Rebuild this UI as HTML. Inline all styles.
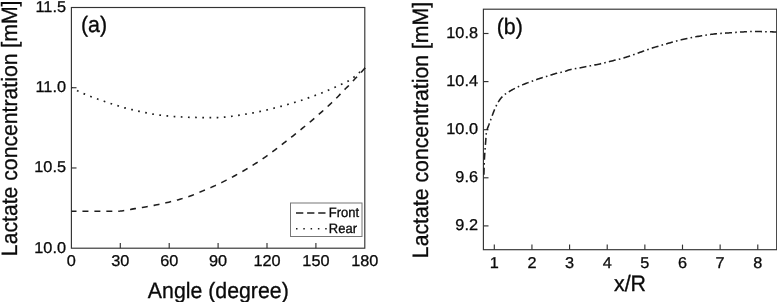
<!DOCTYPE html>
<html><head><meta charset="utf-8"><title>Lactate concentration</title>
<style>html,body{margin:0;padding:0;background:#fff}svg{display:block}text{font-family:"Liberation Sans",Arial,sans-serif;fill:#0a0a0a;text-rendering:geometricPrecision}</style></head><body>
<svg width="777" height="302" viewBox="0 0 777 302">
<rect width="777" height="302" fill="#fff"/>
<g fill="none" stroke="#333" stroke-width="1.15">
<rect x="71.4" y="7.5" width="293.40" height="240.70"/>
<line x1="120.30" y1="248.2" x2="120.30" y2="243.1"/>
<line x1="169.20" y1="248.2" x2="169.20" y2="243.1"/>
<line x1="218.10" y1="248.2" x2="218.10" y2="243.1"/>
<line x1="267.00" y1="248.2" x2="267.00" y2="243.1"/>
<line x1="315.90" y1="248.2" x2="315.90" y2="243.1"/>
<line x1="71.4" y1="167.97" x2="76.5" y2="167.97"/>
<line x1="71.4" y1="87.73" x2="76.5" y2="87.73"/>
</g>
<text transform="translate(71.4,266.2) scale(1,0.965)" font-size="16.3" text-anchor="middle" stroke="#0a0a0a" stroke-width="0.3">0</text>
<text transform="translate(120.3,266.2) scale(1,0.965)" font-size="16.3" text-anchor="middle" stroke="#0a0a0a" stroke-width="0.3">30</text>
<text transform="translate(169.2,266.2) scale(1,0.965)" font-size="16.3" text-anchor="middle" stroke="#0a0a0a" stroke-width="0.3">60</text>
<text transform="translate(218.1,266.2) scale(1,0.965)" font-size="16.3" text-anchor="middle" stroke="#0a0a0a" stroke-width="0.3">90</text>
<text transform="translate(267.0,266.2) scale(1,0.965)" font-size="16.3" text-anchor="middle" stroke="#0a0a0a" stroke-width="0.3">120</text>
<text transform="translate(315.9,266.2) scale(1,0.965)" font-size="16.3" text-anchor="middle" stroke="#0a0a0a" stroke-width="0.3">150</text>
<text transform="translate(364.8,266.2) scale(1,0.965)" font-size="16.3" text-anchor="middle" stroke="#0a0a0a" stroke-width="0.3">180</text>
<text transform="translate(66.0,252.5) scale(1,0.965)" font-size="16.3" text-anchor="end" stroke="#0a0a0a" stroke-width="0.3">10.0</text>
<text transform="translate(66.0,172.27) scale(1,0.965)" font-size="16.3" text-anchor="end" stroke="#0a0a0a" stroke-width="0.3">10.5</text>
<text transform="translate(66.0,92.03) scale(1,0.965)" font-size="16.3" text-anchor="end" stroke="#0a0a0a" stroke-width="0.3">11.0</text>
<text transform="translate(66.0,11.8) scale(1,0.965)" font-size="16.3" text-anchor="end" stroke="#0a0a0a" stroke-width="0.3">11.5</text>
<text transform="translate(80.9,32) scale(1,1.045)" font-size="21.4" text-anchor="start" stroke="#0a0a0a" stroke-width="0.3">(a)</text>
<text transform="translate(218.3,298.0) scale(1,1.045)" font-size="21.3" text-anchor="middle" stroke="#0a0a0a" stroke-width="0.3">Angle (degree)</text>
<text transform="translate(17.0,128.35) rotate(-90) scale(1,1.045)" font-size="21.2" text-anchor="middle" stroke="#0a0a0a" stroke-width="0.3">Lactate concentration [mM]</text>
<path d="M71.50,211.20 L72.98,211.20 L74.45,211.20 L75.93,211.20 L77.40,211.20 L78.88,211.20 L80.35,211.20 L81.83,211.20 L83.30,211.20 L84.78,211.20 L86.25,211.20 L87.73,211.20 L89.20,211.20 L90.68,211.20 L92.16,211.20 L93.63,211.20 L95.11,211.20 L96.58,211.20 L98.06,211.20 L99.53,211.20 L101.01,211.20 L102.48,211.20 L103.96,211.20 L105.43,211.20 L106.91,211.20 L108.38,211.20 L109.86,211.20 L111.34,211.20 L112.81,211.20 L114.29,211.20 L115.76,211.20 L117.24,211.20 L118.71,211.18 L120.19,211.09 L121.66,210.95 L123.14,210.75 L124.61,210.52 L126.09,210.25 L127.56,209.97 L129.04,209.69 L130.52,209.40 L131.99,209.12 L133.47,208.87 L134.94,208.64 L136.42,208.40 L137.89,208.17 L139.37,207.93 L140.84,207.69 L142.32,207.44 L143.79,207.19 L145.27,206.94 L146.74,206.69 L148.22,206.43 L149.69,206.17 L151.17,205.91 L152.65,205.65 L154.12,205.38 L155.60,205.10 L157.07,204.81 L158.55,204.50 L160.02,204.19 L161.50,203.87 L162.97,203.54 L164.45,203.21 L165.92,202.86 L167.40,202.51 L168.87,202.16 L170.35,201.80 L171.83,201.43 L173.30,201.06 L174.78,200.68 L176.25,200.29 L177.73,199.89 L179.20,199.48 L180.68,199.06 L182.15,198.63 L183.63,198.18 L185.10,197.73 L186.58,197.26 L188.05,196.77 L189.53,196.27 L191.01,195.75 L192.48,195.21 L193.96,194.64 L195.43,194.03 L196.91,193.41 L198.38,192.77 L199.86,192.13 L201.33,191.49 L202.81,190.87 L204.28,190.26 L205.76,189.64 L207.23,189.03 L208.71,188.42 L210.19,187.80 L211.66,187.16 L213.14,186.52 L214.61,185.86 L216.09,185.18 L217.56,184.50 L219.04,183.81 L220.51,183.11 L221.99,182.39 L223.46,181.67 L224.94,180.93 L226.41,180.18 L227.89,179.42 L229.37,178.65 L230.84,177.86 L232.32,177.07 L233.79,176.28 L235.27,175.47 L236.74,174.66 L238.22,173.84 L239.69,173.01 L241.17,172.17 L242.64,171.32 L244.12,170.46 L245.59,169.59 L247.07,168.71 L248.55,167.83 L250.02,166.93 L251.50,166.02 L252.97,165.11 L254.45,164.18 L255.92,163.24 L257.40,162.29 L258.87,161.33 L260.35,160.36 L261.82,159.37 L263.30,158.38 L264.77,157.36 L266.25,156.34 L267.73,155.29 L269.20,154.22 L270.68,153.15 L272.15,152.06 L273.63,150.96 L275.10,149.85 L276.58,148.72 L278.05,147.58 L279.53,146.42 L281.00,145.27 L282.48,144.11 L283.95,142.96 L285.43,141.81 L286.91,140.67 L288.38,139.53 L289.86,138.38 L291.33,137.23 L292.81,136.07 L294.28,134.90 L295.76,133.72 L297.23,132.54 L298.71,131.34 L300.18,130.14 L301.66,128.94 L303.13,127.72 L304.61,126.50 L306.08,125.28 L307.56,124.04 L309.04,122.80 L310.51,121.55 L311.99,120.30 L313.46,119.04 L314.94,117.77 L316.41,116.50 L317.89,115.21 L319.36,113.92 L320.84,112.62 L322.31,111.31 L323.79,109.99 L325.26,108.66 L326.74,107.32 L328.22,105.96 L329.69,104.59 L331.17,103.20 L332.64,101.79 L334.12,100.36 L335.59,98.91 L337.07,97.44 L338.54,95.92 L340.02,94.36 L341.49,92.80 L342.97,91.28 L344.44,89.76 L345.92,88.28 L347.40,86.86 L348.87,85.44 L350.35,83.92 L351.82,82.29 L353.30,80.65 L354.77,79.07 L356.25,77.54 L357.72,76.00 L359.20,74.41 L360.67,72.81 L362.15,71.19 L363.62,69.56 L365.10,67.90" fill="none" stroke="#1e1e1e" stroke-width="1.55" stroke-dasharray="6.0 5.94" stroke-dashoffset="1.0"/>
<path d="M71.50,87.50 L72.98,88.38 L74.45,89.22 L75.93,90.03 L77.40,90.80 L78.88,91.52 L80.35,92.21 L81.83,92.87 L83.30,93.51 L84.78,94.13 L86.25,94.75 L87.73,95.35 L89.20,95.94 L90.68,96.51 L92.16,97.07 L93.63,97.62 L95.11,98.16 L96.58,98.69 L98.06,99.21 L99.53,99.73 L101.01,100.24 L102.48,100.74 L103.96,101.24 L105.43,101.74 L106.91,102.24 L108.38,102.74 L109.86,103.23 L111.34,103.72 L112.81,104.20 L114.29,104.67 L115.76,105.14 L117.24,105.61 L118.71,106.06 L120.19,106.51 L121.66,106.95 L123.14,107.39 L124.61,107.82 L126.09,108.22 L127.56,108.61 L129.04,108.97 L130.52,109.33 L131.99,109.68 L133.47,110.04 L134.94,110.39 L136.42,110.75 L137.89,111.09 L139.37,111.43 L140.84,111.75 L142.32,112.05 L143.79,112.35 L145.27,112.64 L146.74,112.93 L148.22,113.22 L149.69,113.50 L151.17,113.78 L152.65,114.04 L154.12,114.28 L155.60,114.52 L157.07,114.73 L158.55,114.94 L160.02,115.14 L161.50,115.32 L162.97,115.50 L164.45,115.67 L165.92,115.82 L167.40,115.97 L168.87,116.11 L170.35,116.24 L171.83,116.36 L173.30,116.47 L174.78,116.58 L176.25,116.67 L177.73,116.77 L179.20,116.85 L180.68,116.93 L182.15,117.00 L183.63,117.07 L185.10,117.14 L186.58,117.21 L188.05,117.26 L189.53,117.31 L191.01,117.36 L192.48,117.40 L193.96,117.43 L195.43,117.47 L196.91,117.51 L198.38,117.56 L199.86,117.62 L201.33,117.66 L202.81,117.69 L204.28,117.70 L205.76,117.70 L207.23,117.70 L208.71,117.70 L210.19,117.70 L211.66,117.69 L213.14,117.67 L214.61,117.64 L216.09,117.59 L217.56,117.54 L219.04,117.48 L220.51,117.39 L221.99,117.29 L223.46,117.18 L224.94,117.05 L226.41,116.92 L227.89,116.76 L229.37,116.59 L230.84,116.41 L232.32,116.22 L233.79,116.02 L235.27,115.81 L236.74,115.60 L238.22,115.37 L239.69,115.15 L241.17,114.92 L242.64,114.68 L244.12,114.44 L245.59,114.20 L247.07,113.96 L248.55,113.71 L250.02,113.46 L251.50,113.20 L252.97,112.93 L254.45,112.65 L255.92,112.35 L257.40,112.05 L258.87,111.73 L260.35,111.42 L261.82,111.09 L263.30,110.75 L264.77,110.41 L266.25,110.06 L267.73,109.71 L269.20,109.35 L270.68,108.98 L272.15,108.61 L273.63,108.24 L275.10,107.87 L276.58,107.50 L278.05,107.12 L279.53,106.73 L281.00,106.34 L282.48,105.94 L283.95,105.54 L285.43,105.13 L286.91,104.71 L288.38,104.29 L289.86,103.85 L291.33,103.40 L292.81,102.95 L294.28,102.51 L295.76,102.07 L297.23,101.64 L298.71,101.20 L300.18,100.75 L301.66,100.28 L303.13,99.78 L304.61,99.25 L306.08,98.72 L307.56,98.19 L309.04,97.66 L310.51,97.13 L311.99,96.60 L313.46,96.07 L314.94,95.53 L316.41,95.01 L317.89,94.47 L319.36,93.93 L320.84,93.36 L322.31,92.76 L323.79,92.13 L325.26,91.48 L326.74,90.83 L328.22,90.19 L329.69,89.56 L331.17,88.93 L332.64,88.29 L334.12,87.65 L335.59,86.99 L337.07,86.33 L338.54,85.66 L340.02,84.98 L341.49,84.32 L342.97,83.68 L344.44,83.02 L345.92,82.31 L347.40,81.51 L348.87,80.64 L350.35,79.68 L351.82,78.67 L353.30,77.60 L354.77,76.44 L356.25,75.18 L357.72,73.88 L359.20,72.64 L360.67,71.43 L362.15,70.24 L363.62,69.06 L365.10,67.90" fill="none" stroke="#1e1e1e" stroke-width="1.7" stroke-dasharray="1.7 5.48" stroke-dashoffset="0.85"/>
<rect x="290.5" y="203" width="71.5" height="33.5" fill="#fff" stroke="#777" stroke-width="1"/>
<line x1="296" y1="213" x2="325.5" y2="213" stroke="#1e1e1e" stroke-width="1.55" stroke-dasharray="7.3 3.8"/>
<line x1="296" y1="228.8" x2="327" y2="228.8" stroke="#1e1e1e" stroke-width="1.5" stroke-dasharray="1.5 5.8"/>
<text transform="translate(328.8,217) scale(1,1.045)" font-size="13" text-anchor="start" stroke="#0a0a0a" stroke-width="0.3">Front</text>
<text transform="translate(328.8,233.3) scale(1,1.045)" font-size="13" text-anchor="start" stroke="#0a0a0a" stroke-width="0.3">Rear</text>
<g fill="none" stroke="#333" stroke-width="1.15">
<rect x="483.4" y="9.2" width="293.30" height="240.50"/>
<line x1="494.30" y1="249.7" x2="494.30" y2="244.6"/>
<line x1="531.94" y1="249.7" x2="531.94" y2="244.6"/>
<line x1="569.58" y1="249.7" x2="569.58" y2="244.6"/>
<line x1="607.22" y1="249.7" x2="607.22" y2="244.6"/>
<line x1="644.86" y1="249.7" x2="644.86" y2="244.6"/>
<line x1="682.50" y1="249.7" x2="682.50" y2="244.6"/>
<line x1="720.14" y1="249.7" x2="720.14" y2="244.6"/>
<line x1="757.78" y1="249.7" x2="757.78" y2="244.6"/>
<line x1="483.4" y1="33.50" x2="488.5" y2="33.50"/>
<line x1="483.4" y1="81.60" x2="488.5" y2="81.60"/>
<line x1="483.4" y1="129.70" x2="488.5" y2="129.70"/>
<line x1="483.4" y1="177.80" x2="488.5" y2="177.80"/>
<line x1="483.4" y1="225.90" x2="488.5" y2="225.90"/>
</g>
<text transform="translate(494.3,267.8) scale(1,0.965)" font-size="16.3" text-anchor="middle" stroke="#0a0a0a" stroke-width="0.3">1</text>
<text transform="translate(531.94,267.8) scale(1,0.965)" font-size="16.3" text-anchor="middle" stroke="#0a0a0a" stroke-width="0.3">2</text>
<text transform="translate(569.58,267.8) scale(1,0.965)" font-size="16.3" text-anchor="middle" stroke="#0a0a0a" stroke-width="0.3">3</text>
<text transform="translate(607.22,267.8) scale(1,0.965)" font-size="16.3" text-anchor="middle" stroke="#0a0a0a" stroke-width="0.3">4</text>
<text transform="translate(644.86,267.8) scale(1,0.965)" font-size="16.3" text-anchor="middle" stroke="#0a0a0a" stroke-width="0.3">5</text>
<text transform="translate(682.5,267.8) scale(1,0.965)" font-size="16.3" text-anchor="middle" stroke="#0a0a0a" stroke-width="0.3">6</text>
<text transform="translate(720.14,267.8) scale(1,0.965)" font-size="16.3" text-anchor="middle" stroke="#0a0a0a" stroke-width="0.3">7</text>
<text transform="translate(757.78,267.8) scale(1,0.965)" font-size="16.3" text-anchor="middle" stroke="#0a0a0a" stroke-width="0.3">8</text>
<text transform="translate(478.0,37.7) scale(1,0.965)" font-size="16.3" text-anchor="end" stroke="#0a0a0a" stroke-width="0.3">10.8</text>
<text transform="translate(478.0,85.8) scale(1,0.965)" font-size="16.3" text-anchor="end" stroke="#0a0a0a" stroke-width="0.3">10.4</text>
<text transform="translate(478.0,133.9) scale(1,0.965)" font-size="16.3" text-anchor="end" stroke="#0a0a0a" stroke-width="0.3">10.0</text>
<text transform="translate(478.0,182.0) scale(1,0.965)" font-size="16.3" text-anchor="end" stroke="#0a0a0a" stroke-width="0.3">9.6</text>
<text transform="translate(478.0,230.1) scale(1,0.965)" font-size="16.3" text-anchor="end" stroke="#0a0a0a" stroke-width="0.3">9.2</text>
<text transform="translate(496.7,33.5) scale(1,1.045)" font-size="21.4" text-anchor="start" stroke="#0a0a0a" stroke-width="0.3">(b)</text>
<text transform="translate(630,290.5) scale(1,1.045)" font-size="21.4" text-anchor="middle" stroke="#0a0a0a" stroke-width="0.3">x/R</text>
<text transform="translate(428.4,130.0) rotate(-90) scale(1,1.045)" font-size="21.25" text-anchor="middle" stroke="#0a0a0a" stroke-width="0.3">Lactate concentration [mM]</text>
<path d="M483.90,176.00 L483.92,174.77 L483.94,173.54 L483.97,172.31 L484.00,171.08 L484.04,169.85 L484.07,168.62 L484.11,167.39 L484.16,166.16 L484.20,164.94 L484.25,163.71 L484.30,162.48 L484.35,161.25 L484.40,160.02 L484.45,158.79 L484.52,157.57 L484.59,156.34 L484.66,155.11 L484.74,153.88 L484.82,152.66 L484.90,151.43 L484.99,150.20 L485.07,148.98 L485.17,147.75 L485.27,146.52 L485.37,145.30 L485.47,144.07 L485.58,142.85 L485.68,141.62 L485.77,140.40 L485.86,139.17 L485.93,137.94 L486.00,136.71 L486.08,135.48 L486.18,134.26 L486.34,133.04 L486.57,131.83 L486.84,130.63 L487.15,129.45 L487.53,128.28 L487.97,127.13 L488.43,125.98 L488.88,124.83 L489.30,123.68 L489.72,122.52 L490.15,121.37 L490.57,120.21 L490.99,119.06 L491.40,117.90 L491.81,116.74 L492.23,115.58 L492.65,114.43 L493.08,113.28 L493.53,112.13 L493.97,110.98 L494.43,109.84 L494.91,108.71 L495.41,107.58 L495.92,106.47 L496.45,105.35 L497.01,104.25 L497.59,103.16 L498.21,102.11 L498.87,101.08 L499.56,100.06 L500.30,99.05 L501.08,98.07 L501.89,97.14 L502.73,96.26 L503.61,95.44 L504.55,94.67 L505.54,93.94 L506.57,93.24 L507.62,92.57 L508.67,91.91 L509.71,91.26 L510.77,90.64 L511.84,90.03 L512.92,89.44 L514.01,88.87 L515.10,88.30 L516.20,87.75 L517.30,87.21 L518.41,86.67 L519.53,86.15 L520.65,85.64 L521.77,85.14 L522.90,84.66 L524.04,84.19 L525.18,83.73 L526.32,83.29 L527.48,82.86 L528.63,82.44 L529.79,82.02 L530.95,81.60 L532.10,81.18 L533.26,80.75 L534.41,80.33 L535.57,79.91 L536.72,79.49 L537.88,79.08 L539.05,78.68 L540.21,78.30 L541.39,77.93 L542.56,77.58 L543.74,77.23 L544.93,76.89 L546.11,76.55 L547.29,76.20 L548.47,75.85 L549.64,75.48 L550.81,75.10 L551.98,74.72 L553.15,74.34 L554.32,73.97 L555.50,73.61 L556.68,73.28 L557.87,72.97 L559.07,72.69 L560.27,72.42 L561.47,72.16 L562.67,71.89 L563.87,71.60 L565.05,71.29 L566.23,70.92 L567.39,70.52 L568.56,70.11 L569.73,69.75 L570.92,69.45 L572.12,69.20 L573.32,68.96 L574.53,68.74 L575.74,68.53 L576.96,68.33 L578.18,68.13 L579.39,67.92 L580.60,67.70 L581.81,67.47 L583.02,67.24 L584.23,67.01 L585.43,66.77 L586.64,66.54 L587.85,66.30 L589.05,66.07 L590.26,65.83 L591.47,65.59 L592.67,65.35 L593.88,65.11 L595.09,64.88 L596.29,64.64 L597.50,64.39 L598.70,64.14 L599.90,63.89 L601.10,63.62 L602.30,63.34 L603.50,63.06 L604.69,62.76 L605.88,62.45 L607.07,62.14 L608.26,61.83 L609.45,61.52 L610.64,61.21 L611.84,60.92 L613.03,60.63 L614.23,60.35 L615.43,60.07 L616.63,59.79 L617.83,59.51 L619.02,59.22 L620.21,58.92 L621.40,58.61 L622.58,58.28 L623.76,57.93 L624.94,57.57 L626.11,57.20 L627.28,56.82 L628.45,56.44 L629.61,56.04 L630.78,55.65 L631.94,55.25 L633.11,54.85 L634.27,54.45 L635.43,54.03 L636.58,53.61 L637.74,53.19 L638.89,52.77 L640.05,52.35 L641.20,51.93 L642.36,51.51 L643.52,51.10 L644.68,50.69 L645.84,50.27 L646.99,49.86 L648.15,49.45 L649.31,49.04 L650.48,48.64 L651.64,48.25 L652.81,47.86 L653.98,47.49 L655.15,47.13 L656.33,46.77 L657.51,46.41 L658.69,46.06 L659.87,45.71 L661.05,45.37 L662.23,45.02 L663.41,44.68 L664.59,44.34 L665.77,44.00 L666.95,43.66 L668.14,43.32 L669.32,42.99 L670.50,42.66 L671.69,42.33 L672.88,42.01 L674.07,41.70 L675.25,41.38 L676.44,41.07 L677.64,40.76 L678.83,40.46 L680.02,40.16 L681.21,39.87 L682.41,39.58 L683.61,39.30 L684.80,39.02 L686.00,38.75 L687.20,38.48 L688.41,38.22 L689.61,37.96 L690.81,37.71 L692.02,37.46 L693.22,37.23 L694.43,37.00 L695.64,36.78 L696.85,36.57 L698.07,36.37 L699.28,36.17 L700.49,35.97 L701.71,35.78 L702.92,35.59 L704.14,35.41 L705.36,35.22 L706.57,35.04 L707.79,34.85 L709.01,34.66 L710.22,34.48 L711.44,34.31 L712.66,34.15 L713.88,34.00 L715.10,33.87 L716.32,33.75 L717.55,33.65 L718.77,33.55 L720.00,33.46 L721.23,33.38 L722.45,33.30 L723.68,33.22 L724.91,33.15 L726.14,33.07 L727.36,32.99 L728.59,32.91 L729.82,32.82 L731.05,32.73 L732.27,32.64 L733.50,32.55 L734.72,32.46 L735.95,32.37 L737.18,32.28 L738.40,32.20 L739.63,32.12 L740.86,32.04 L742.09,31.97 L743.31,31.90 L744.54,31.82 L745.77,31.74 L747.00,31.66 L748.23,31.60 L749.45,31.55 L750.68,31.51 L751.91,31.50 L753.14,31.50 L754.37,31.51 L755.60,31.52 L756.83,31.54 L758.06,31.56 L759.29,31.57 L760.52,31.59 L761.75,31.61 L762.98,31.63 L764.21,31.66 L765.44,31.68 L766.67,31.71 L767.90,31.74 L769.13,31.77 L770.35,31.80 L771.58,31.84 L772.81,31.88 L774.04,31.92 L775.27,31.96 L776.50,32.00" fill="none" stroke="#1e1e1e" stroke-width="1.55" stroke-dasharray="7 3.2 1.6 3.2" stroke-dashoffset="13.8"/>
</svg></body></html>
